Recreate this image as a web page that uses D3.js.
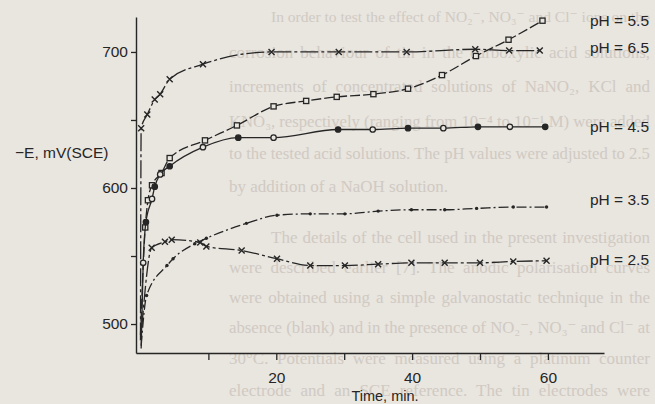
<!DOCTYPE html>
<html>
  <head>
    <meta charset="utf-8" />
    <!-- Load d3 -->
    <script src="https://d3js.org/d3.v7.min.js"></script>
    <style>
      body { margin: 0; background: #e9e5df; }
      svg { display: block; }
    </style>
  </head>
  <body>
    <svg id="my_dataviz"></svg>

    <script>
      // Values (time in min, -E in mV vs SCE)
      var ph55_t = [0, 0.7, 1.1, 1.7, 3.1, 4.3, 9.5, 14.2, 19.6, 24.4, 28.9, 34.3, 39.4, 44.4, 49.4, 54.2, 59.2];
      var ph55_e = [492, 571, 591, 602, 611, 622, 635, 646, 660, 664, 667, 669, 673, 683, 697, 709, 723];

      var ph65_t = [0, 0.1, 1.0, 2.1, 2.9, 4.3, 9.2, 19.3, 29.2, 39.2, 49.3, 54.3, 58.8];
      var ph65_e = [488, 644, 654, 665, 669, 680, 691, 700, 700, 700, 702, 701, 701];

      var ph45_t = [0.1, 0.4, 0.8, 1.7, 2.1, 2.9, 4.3, 9.2, 14.4, 19.6, 29.1, 34.2, 39.4, 44.6, 49.7, 54.4, 59.6];
      var ph45_e = [482, 545, 575, 592, 601, 610, 616, 630, 637, 637, 643, 643, 644, 644, 645, 645, 645];

      var ph35_t = [0.1, 0.9, 3.9, 4.8, 8.0, 9.7, 15.6, 20.1, 25.0, 30.1, 35.0, 39.9, 44.8, 49.5, 54.9, 59.8];
      var ph35_e = [484, 521, 543, 548, 559, 563, 574, 580, 581, 581, 583, 584, 584, 585, 586, 586];

      var ph25_t = [0.2, 1.65, 3.6, 4.6, 8.8, 9.7, 14.9, 20.1, 25.0, 30.1, 35.0, 39.9, 44.8, 50.0, 54.9, 59.8];
      var ph25_e = [498, 556, 560.5, 562, 560, 557, 554, 548, 543, 543, 544, 545, 545, 545, 546, 546.5];

      var seriesNames = ["pH = 5.5", "pH = 6.5", "pH = 4.5", "pH = 3.5", "pH = 2.5"];
      var labelE = [723, 703, 645, 591, 547]; // where each pH label sits

      var xTicks = [10, 20, 30, 40, 50, 60];
      var xTickLabels = ["", "20", "", "40", "", "60"];
      var yTicks = [500, 550, 600, 650, 700];
      var yTickLabels = ["500", "", "600", "", "700"];

      // text from the facing page that shows through the scan
      var pageLines = [
        "In order to test the effect of NO\u2082\u207B, NO\u2083\u207B and Cl\u207B ions on the",
        "corrosion behaviour of tin in the carboxylic acid solutions,",
        "increments of concentrated solutions of NaNO\u2082, KCl and",
        "KNO\u2083, respectively (ranging from 10\u207B\u2074 to 10\u207B\u00B9 M) were added",
        "to the tested acid solutions. The pH values were adjusted to 2.5",
        "by addition of a NaOH solution.",
        "The details of the cell used in the present investigation",
        "were described earlier [7]. The anodic polarisation curves",
        "were obtained using a simple galvanostatic technique in the",
        "absence (blank) and in the presence of NO\u2082\u207B, NO\u2083\u207B and Cl\u207B at",
        "30\u00B0C. Potentials were measured using a platinum counter",
        "electrode and an SCE reference. The tin electrodes were"
      ];
      var pageIndent = [true, false, false, false, false, false, true, false, false, false, false, false];
      var pageFull = [true, true, true, true, true, false, true, true, true, true, true, true];
    </script>
    <script>
      var width = 655;
      var height = 404;

      var svg = d3.select("#my_dataviz").attr("width", width).attr("height", height);

      svg.append("rect").attr("width", width).attr("height", height).attr("fill", "#e9e5df");

      // show-through text, drawn first so it stays underneath
      var pageY = [22, 58, 92, 127, 159, 192, 243, 273, 303, 333, 364, 396];
      var baseSize = 17;
      svg.append("g")
        .selectAll("text")
        .data(pageLines)
        .join("text")
        .attr("x", (d, i) => (pageIndent[i] ? 271 : 229))
        .attr("y", (d, i) => pageY[i])
        .style("font-family", "'Liberation Serif', 'DejaVu Serif', serif")
        .style("font-size", baseSize + "px")
        .style("fill", "#d0cac3")
        .text((d) => d)
        .each(function (d, i) {
          // justify: shrink long lines, spread short ones with word spacing
          if (!pageFull[i]) return;
          var el = d3.select(this);
          var target = 650 - +el.attr("x");
          var w = this.getComputedTextLength();
          if (w > target) {
            el.style("font-size", (baseSize * target / w).toFixed(2) + "px");
          } else {
            var gaps = d.split(" ").length - 1;
            el.style("word-spacing", ((target - w) / gaps).toFixed(2) + "px");
          }
        });

      // scales
      var x = d3.scaleLinear().domain([-0.66, 68.26]).range([136, 604]);
      var y = d3.scaleLinear().domain([478.7, 725.7]).range([353, 17]);

      var ink = "#262626";

      // axes
      var xAxis = svg.append("g")
        .attr("transform", "translate(0,353)")
        .call(
          d3.axisBottom(x)
            .tickValues(xTicks)
            .tickSize(7)
            .tickSizeOuter(0)
            .tickPadding(12)
            .tickFormat((d, i) => xTickLabels[i])
        );

      var yAxis = svg.append("g")
        .attr("transform", "translate(136,0)")
        .call(
          d3.axisLeft(y)
            .tickValues(yTicks)
            .tickSize(5)
            .tickSizeOuter(0)
            .tickPadding(3)
            .tickFormat((d, i) => yTickLabels[i])
        );

      [xAxis, yAxis].forEach(function (g) {
        g.select(".domain").attr("stroke", ink).attr("stroke-width", 1.4);
        g.selectAll(".tick line").attr("stroke", ink).attr("stroke-width", 1.3);
        g.selectAll(".tick text")
          .attr("fill", ink)
          .style("font-family", "'Liberation Sans', Arial, sans-serif")
          .style("font-size", "15.5px");
      });

      // axis titles
      svg.append("text")
        .attr("x", 15)
        .attr("y", 158)
        .style("font-family", "'Liberation Sans', Arial, sans-serif")
        .style("font-size", "15.5px")
        .attr("fill", ink)
        .text("\u2212E, mV(SCE)");

      svg.append("text")
        .attr("x", 385)
        .attr("y", 401)
        .attr("text-anchor", "middle")
        .style("font-family", "'Liberation Sans', Arial, sans-serif")
        .style("font-size", "14.5px")
        .attr("fill", ink)
        .text("Time, min.");

      // series
      var series = [
        { t: ph55_t, e: ph55_e, mark: "square", dash: "10,3" },
        { t: ph65_t, e: ph65_e, mark: "cross", dash: "18,3,3,3" },
        { t: ph45_t, e: ph45_e, mark: "circle", dash: null },
        { t: ph35_t, e: ph35_e, mark: "dot", dash: "10,3,2,3" },
        { t: ph25_t, e: ph25_e, mark: "cross", dash: "16,3,3,3" }
      ];

      var line = d3.line()
        .x((d) => x(d[0]))
        .y((d) => y(d[1]))
        .curve(d3.curveMonotoneX);

      series.forEach(function (s, k) {
        var pts = s.t.map((t, i) => [t, s.e[i]]);
        var g = svg.append("g");

        g.append("path")
          .datum(pts)
          .attr("d", line)
          .attr("fill", "none")
          .attr("stroke", ink)
          .attr("stroke-width", 1.3)
          .attr("stroke-dasharray", s.dash);

        // markers (skip the first point at the foot of the curve)
        var m = g.selectAll(".m").data(pts.slice(1)).join("g")
          .attr("transform", (d) => `translate(${x(d[0])},${y(d[1])})`);

        if (s.mark === "cross") {
          m.append("path").attr("d", "M-3,-3L3,3M-3,3L3,-3")
            .attr("stroke", ink).attr("stroke-width", 1.4);
        } else if (s.mark === "square") {
          m.append("rect").attr("x", -2.6).attr("y", -2.6).attr("width", 5.2).attr("height", 5.2)
            .attr("fill", "#e9e5df").attr("stroke", ink).attr("stroke-width", 1.3);
        } else if (s.mark === "circle") {
          m.append("circle").attr("r", 2.7)
            .attr("fill", (d, i) => (i % 2 ? ink : "#e9e5df"))
            .attr("stroke", ink).attr("stroke-width", 1.3);
        } else {
          m.append("circle").attr("r", 1.7).attr("fill", ink);
        }

        // label at the right
        svg.append("text")
          .attr("x", 590)
          .attr("y", y(labelE[k]) + 5)
          .style("font-family", "'Liberation Sans', Arial, sans-serif")
          .style("font-size", "15.5px")
          .attr("fill", ink)
          .text(seriesNames[k]);
      });
    </script>
  </body>
</html>
